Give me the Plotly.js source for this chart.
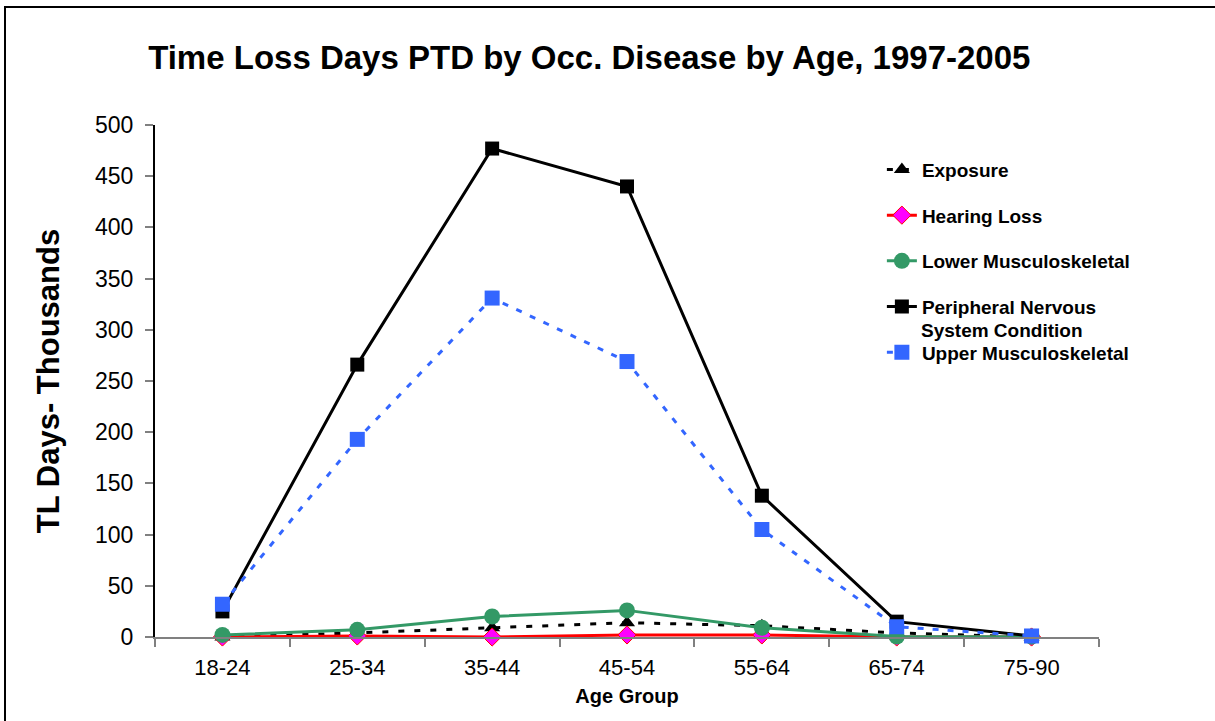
<!DOCTYPE html>
<html>
<head>
<meta charset="utf-8">
<script src="https://cdn.plot.ly/plotly-3.0.1.min.js"></script>
<style>
html,body{margin:0;padding:0;background:#fff;}
#frame{position:absolute;left:4px;top:6px;width:1300px;height:800px;border-top:2px solid #000;border-left:2px solid #000;pointer-events:none;z-index:5;}
#chart{width:1215px;height:721px;}
</style>
</head>
<body>
<div id="frame"></div>
<div id="chart"></div>
<script>
const ageGroups = ["18-24","25-34","35-44","45-54","55-64","65-74","75-90"];
const exposure = [0, 4, 9, 14, 11, 4, 0];
const hearingLoss = [0, 1, 0, 2, 2, 0, 0];
const lowerMusculoskeletal = [2, 7, 20, 26, 9, 0.5, 0.3];
const peripheralNervous = [25, 266, 477, 440, 138, 15, 1];
const upperMusculoskeletal = [32, 193, 331, 269, 105, 10, 1];
const yTicks = [0,50,100,150,200,250,300,350,400,450,500];

const F = '"Liberation Sans", Arial, sans-serif';
const traces = [
  {name:"Exposure", y:exposure, legendgroup:"a",
   line:{color:"#000000", width:3, dash:"6px,10px"},
   marker:{symbol:"triangle-up", size:14, color:"#000000"}},
  {name:"Hearing Loss", y:hearingLoss, legendgroup:"b",
   line:{color:"#FF0000", width:3},
   marker:{symbol:"diamond", size:14, color:"#FF00FF", line:{color:"#FF0000", width:1}}},
  {name:"Lower Musculoskeletal", y:lowerMusculoskeletal, legendgroup:"c",
   line:{color:"#339966", width:3},
   marker:{symbol:"circle", size:16, color:"#339966"}},
  {name:"Peripheral Nervous", y:peripheralNervous, legendgroup:"d",
   line:{color:"#000000", width:3},
   marker:{symbol:"square", size:14, color:"#000000"}},
  {name:"Upper Musculoskeletal", y:upperMusculoskeletal, legendgroup:"e",
   line:{color:"#3366FF", width:3, dash:"6px,9px"},
   marker:{symbol:"square", size:15, color:"#3366FF"}}
].map(t => Object.assign({type:"scatter", mode:"lines+markers", x:ageGroups, cliponaxis:false}, t));

const layout = {
  width:1215, height:721,
  margin:{l:155, r:116, t:125, b:84},
  paper_bgcolor:"#fff", plot_bgcolor:"#fff",
  font:{family:F, color:"#000"},
  showlegend:true,
  title:{text:"<b>Time Loss Days PTD by Occ. Disease by Age, 1997-2005</b>",
         font:{size:33, family:F, color:"#000"}, x:0.485, xanchor:"center", xref:"container", y:0.92, yanchor:"middle"},
  xaxis:{type:"category", range:[-0.5,6.5], showgrid:false, zeroline:false,
         showline:true, linecolor:"#808080", linewidth:2,
         ticks:"outside", tickson:"boundaries", ticklen:8, tickcolor:"#808080", tickwidth:2,
         ticklabelstandoff:10,
         tickfont:{size:22, family:F, color:"#000"},
         title:{text:"<b>Age Group</b>", font:{size:20, family:F, color:"#000"}, standoff:10}},
  yaxis:{range:[0,500], tickvals:yTicks, ticktext:yTicks.map(String), showgrid:false, zeroline:false,
         showline:true, linecolor:"#000", linewidth:2,
         ticks:"outside", ticklen:8, tickcolor:"#808080", tickwidth:2,
         ticklabelstandoff:7,
         tickfont:{size:23, family:F, color:"#000"},
         title:{text:"<b>TL Days- Thousands</b>", font:{size:31, family:F, color:"#000"}, standoff:26}},
  legend:{x:0.77, xanchor:"left", y:0.95, yanchor:"top", traceorder:"grouped", tracegroupgap:18,
          font:{size:19, family:F, color:"#000", weight:"bold"}, bgcolor:"rgba(0,0,0,0)", itemclick:false},
  annotations:[{text:"<b>System Condition</b>", xref:"paper", yref:"paper", x:0.8093, y:0.598,
                xanchor:"left", yanchor:"middle", showarrow:false,
                font:{size:19, family:F, color:"#000"}}]
};
Plotly.newPlot("chart", traces, layout, {displayModeBar:false, staticPlot:true});
</script>
</body>
</html>
